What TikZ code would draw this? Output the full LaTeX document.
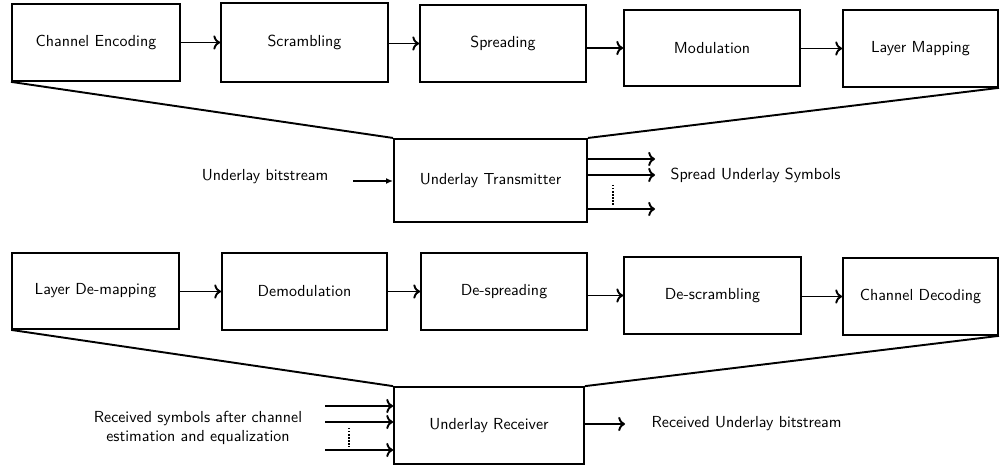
\documentclass[tikz,border=0pt]{standalone}
\usepackage{tikz}
\usetikzlibrary{arrows.meta, positioning, calc}

\begin{document}
\begin{tikzpicture}[
  x=0.022cm, y=-0.022cm,
  font=\sffamily,
  block/.style={draw, very thick, align=center, minimum height=1.69cm},
  arrow/.style={->, very thick},
  feed/.style={-{Latex[length=1.5mm, width=1.3mm]}, thick},
  edge/.style={very thick},
  gap/.style={densely dotted, line width=0.9pt}
]
\useasboundingbox (0,0) rectangle (1000,466);

% transmitter chain
\node[block, minimum width=3.70cm] (enc) at (96,42.5) {Channel Encoding};
\node[block, minimum width=3.67cm, minimum height=1.74cm] (scr) at (304.5,42.5) {Scrambling};
\node[block, minimum width=3.65cm] (spr) at (503,43.5) {Spreading};
\node[block, minimum width=3.87cm, minimum height=1.67cm] (mod) at (712,48) {Modulation};
\node[block, minimum width=3.41cm] (lmap) at (920.5,48.5) {Layer Mapping};

\node[block, minimum width=4.25cm, minimum height=1.83cm] (tx) at (490.5,180.5) {Underlay Transmitter};
\node (ubit) at (265,177) {Underlay bitstream};
\node[anchor=west] (sym) at (665,175) {Spread Underlay Symbols};

\coordinate (uin) at (353,181);
\coordinate (o1) at (655,159);
\coordinate (o2) at (655,175);
\coordinate (o3) at (655,209);

\draw[arrow] (enc.east |- scr.west) -- (scr.west);
\draw[arrow] (scr.east |- spr.west) -- (spr.west);
\draw[arrow] (spr.east |- mod.west) -- (mod.west);
\draw[arrow] (mod.east |- lmap.west) -- (lmap.west);

\draw[edge] (enc.south west) -- (tx.north west);
\draw[edge] (lmap.south east) -- (tx.north east);

\draw[feed] (uin) -- (uin -| tx.west);
\draw[arrow] (tx.east |- o1) -- (o1);
\draw[arrow] (tx.east |- o2) -- (o2);
\draw[arrow] (tx.east |- o3) -- (o3);
\draw[gap] (613,185) -- (613,205);

% receiver chain
\node[block, minimum width=3.67cm, minimum height=1.67cm] (ldm) at (95.5,291) {Layer De-mapping};
\node[block, minimum width=3.63cm] (dem) at (304.5,291.5) {Demodulation};
\node[block, minimum width=3.65cm] (dsp) at (504,291.5) {De-spreading};
\node[block, minimum width=3.89cm] (dsc) at (712.5,295.5) {De-scrambling};
\node[block, minimum width=3.41cm] (cdec) at (920.5,296.5) {Channel Decoding};

\node[block, minimum width=4.18cm] (rx) at (489,425.5) {Underlay Receiver};
\node[align=center] (rsym) at (198,428) {Received symbols after channel\\estimation and equalization};
\node[anchor=west] (rbit) at (646,424) {Received Underlay bitstream};

\coordinate (i1) at (325,406);
\coordinate (i2) at (325,422);
\coordinate (i3) at (325,450);
\coordinate (rout) at (625,424);

\draw[arrow] (ldm.east |- dem.west) -- (dem.west);
\draw[arrow] (dem.east |- dsp.west) -- (dsp.west);
\draw[arrow] (dsp.east |- dsc.west) -- (dsc.west);
\draw[arrow] (dsc.east |- cdec.west) -- (cdec.west);

\draw[edge] (ldm.south west) -- (rx.north west);
\draw[edge] (cdec.south east) -- (rx.north east);

\draw[arrow] (i1) -- (i1 -| rx.west);
\draw[arrow] (i2) -- (i2 -| rx.west);
\draw[arrow] (i3) -- (i3 -| rx.west);
\draw[gap] (349,428) -- (349,447);
\draw[arrow] (rx.east |- rout) -- (rout);
\end{tikzpicture}
\end{document}
